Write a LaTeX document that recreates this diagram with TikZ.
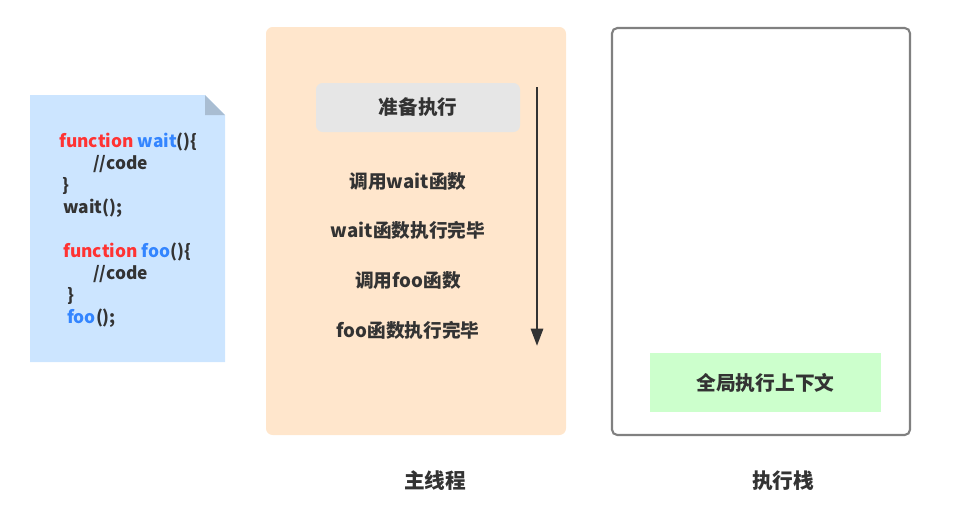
\documentclass[tikz,border=0pt]{standalone}
\usepackage{fontspec}
\setmainfont{Noto Sans CJK SC}
\usepackage{xcolor}
\definecolor{docBlue}{HTML}{CCE5FF}
\definecolor{docFold}{HTML}{A9BDD2}
\definecolor{threadBg}{HTML}{FFE6CC}
\definecolor{prepGrey}{HTML}{E6E6E6}
\definecolor{stackLine}{HTML}{808080}
\definecolor{globalGreen}{HTML}{CCFFCC}
\definecolor{textDark}{HTML}{333333}
\definecolor{kwRed}{HTML}{FF3333}
\definecolor{fnBlue}{HTML}{3385FF}
\usetikzlibrary{arrows.meta, positioning}
\newcommand{\kw}[1]{\textcolor{kwRed}{#1}}
\newcommand{\fn}[1]{\textcolor{fnBlue}{#1}}

\begin{document}
\begin{tikzpicture}[x=0.75pt, y=-0.75pt,
    codeline/.style={anchor=west, inner sep=0pt, text=textDark, font=\bfseries\fontsize{13}{16}\selectfont},
    stepline/.style={text=textDark, font=\bfseries\fontsize{14}{17}\selectfont},
    caption/.style={text=textDark, font=\bfseries\fontsize{15.5}{18}\selectfont}]
  \useasboundingbox (0,0) rectangle (970,522);

  % source file
  \fill[docBlue] (30,95) -- (205,95) -- (225,115) -- (225,362) -- (30,362) -- cycle;
  \fill[docFold] (205,95) -- (225,115) -- (205,115) -- cycle;
  \node[codeline] (code1) at (59,142) {\kw{function} \fn{wait}()\{};
  \node[codeline] (code2) at (93,164) {//code};
  \node[codeline] (code3) at (62,186) {\}};
  \node[codeline] (code4) at (63,208) {wait();};
  \node[codeline] (code5) at (63,252) {\kw{function} \fn{foo}()\{};
  \node[codeline] (code6) at (93,274) {//code};
  \node[codeline] (code7) at (67,296) {\}};
  \node[codeline] (code8) at (67,318) {\fn{foo}();};

  % main thread
  \fill[threadBg, rounded corners=5pt] (266,27) rectangle (566,435);
  \node[fill=prepGrey, rounded corners=5pt, minimum width=204*0.75pt, minimum height=49*0.75pt,
        text=textDark, font=\bfseries\fontsize{14.7}{17}\selectfont] (prep) at (418,107.5) {准备执行};
  \node[stepline] (callWait) at (408,181) {调用wait函数};
  \node[stepline] (doneWait) at (408,230) {wait函数执行完毕};
  \node[stepline] (callFoo) at (408,280) {调用foo函数};
  \node[stepline] (doneFoo) at (408,330) {foo函数执行完毕};
  \coordinate (flowTop) at (537,87);
  \coordinate (flowEnd) at (537,346);
  \draw[textDark, line width=2.2pt, -{Triangle[length=13pt, width=9pt]}] (flowTop) -- (flowEnd);
  \node[caption] (threadLabel) at (435,481) {主线程};

  % execution stack
  \draw[stackLine, line width=1.6pt, fill=white, rounded corners=4pt] (612,28) rectangle (910,435);
  \node[fill=globalGreen, minimum width=231*0.75pt, minimum height=59*0.75pt,
        text=textDark, font=\bfseries\fontsize{14.8}{17}\selectfont] (globalCtx) at (765.5,382.5) {全局执行上下文};
  \node[caption] (stackLabel) at (783,481) {执行栈};
\end{tikzpicture}
\end{document}
